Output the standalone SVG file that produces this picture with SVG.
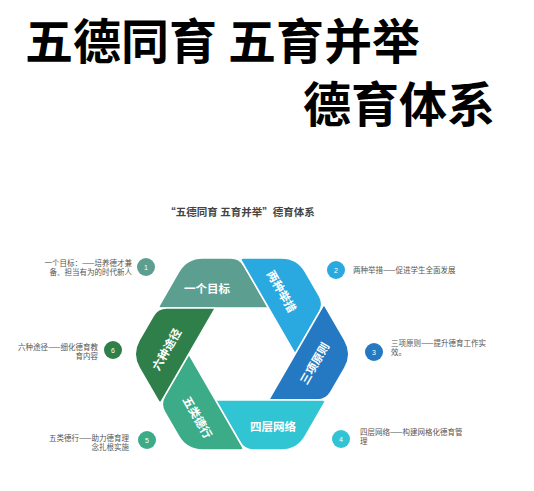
<svg xmlns="http://www.w3.org/2000/svg" xmlns:xlink="http://www.w3.org/1999/xlink" width="534" height="491" viewBox="0 0 534 491">
<style>
.title{font-family:"Noto Sans CJK SC","Noto Sans",sans-serif;font-weight:700;font-size:48px;fill:#000}
.sub{font-family:"Noto Sans CJK SC","Noto Sans",sans-serif;font-weight:700;font-size:10.5px;fill:#444}
.band{stroke:#fff;stroke-width:1.6;stroke-linejoin:round}
.lbl{font-family:"Noto Sans CJK SC","Noto Sans",sans-serif;font-weight:700;font-size:11.5px;fill:#fff;text-anchor:middle;dominant-baseline:central}
.num{font-family:"Liberation Sans","Noto Sans",sans-serif;font-size:7px;fill:#fff;text-anchor:middle;dominant-baseline:central}
.desc{font-family:"Noto Sans CJK SC","Noto Sans",sans-serif;font-size:7.5px;fill:#555}
.r{text-anchor:end}
</style>
<defs>
<path id="band" d="M -39.4,-96 L -11.3,-96 Q -2.3,-96 2.2,-88.2 L 25.6,-47.7 Q 26.6,-46 24.6,-46 L -80.8,-46 Q -84.3,-46 -82.5,-49 L -63.4,-82.1 Q -55.4,-96 -39.4,-96 Z"/>
</defs>
<rect width="534" height="491" fill="#fff"/>
<g id="title">
<text class="title" x="25" y="59">五德同育 五育并举</text>
<text class="title" x="303" y="122">德育体系</text>
</g>
<text class="sub" x="240" y="216" text-anchor="middle">“五德同育 五育并举”德育体系</text>
<g id="connectors"/>
<g id="node1">
<use xlink:href="#band" class="band" fill="#5c9f90" transform="translate(242,354) rotate(0)"/>
<text class="lbl" x="207" y="288">一个目标</text>
<circle cx="146" cy="267" r="9" fill="#5c9f90"/>
<text class="num" x="146" y="267">1</text>
<text class="desc r" x="132" y="265.5">一个目标：——培养德才兼</text>
<text class="desc r" x="132" y="275">备、担当有为的时代新人</text>
</g>
<g id="node2">
<use xlink:href="#band" class="band" fill="#29a9e0" transform="translate(242,354) rotate(60)"/>
<text class="lbl" transform="translate(282,291) rotate(60)">两种举措</text>
<circle cx="336" cy="270" r="9" fill="#29a9e0"/>
<text class="num" x="336" y="270">2</text>
<text class="desc" x="353" y="273">两种举措——促进学生全面发展</text>
</g>
<g id="node3">
<use xlink:href="#band" class="band" fill="#2479c2" transform="translate(242,354) rotate(120)"/>
<text class="lbl" transform="translate(314,363) rotate(-60)">三项原则</text>
<circle cx="374" cy="352" r="9" fill="#2479c2"/>
<text class="num" x="374" y="352">3</text>
<text class="desc" x="391" y="345.5">三项原则——提升德育工作实</text>
<text class="desc" x="391" y="355">效。</text>
</g>
<g id="node4">
<use xlink:href="#band" class="band" fill="#31c4d3" transform="translate(242,354) rotate(180)"/>
<text class="lbl" x="273" y="426">四层网络</text>
<circle cx="341" cy="439" r="9" fill="#31c4d3"/>
<text class="num" x="341" y="439">4</text>
<text class="desc" x="360" y="434.5">四层网络——构建网格化德育管</text>
<text class="desc" x="360" y="444">理</text>
</g>
<g id="node5">
<use xlink:href="#band" class="band" fill="#3bab88" transform="translate(242,354) rotate(240)"/>
<text class="lbl" transform="translate(198,417) rotate(60)">五类德行</text>
<circle cx="147" cy="440" r="9" fill="#3bab88"/>
<text class="num" x="147" y="440">5</text>
<text class="desc r" x="129" y="440.5">五类德行——助力德育理</text>
<text class="desc r" x="129" y="450">念扎根实施</text>
</g>
<g id="node6">
<use xlink:href="#band" class="band" fill="#2f7f4b" transform="translate(242,354) rotate(300)"/>
<text class="lbl" transform="translate(166,349) rotate(-60)">六种途径</text>
<circle cx="113" cy="350" r="9" fill="#2f7f4b"/>
<text class="num" x="113" y="350">6</text>
<text class="desc r" x="98" y="349.5">六种途径——细化德育教</text>
<text class="desc r" x="98" y="359">育内容</text>
</g>
</svg>
